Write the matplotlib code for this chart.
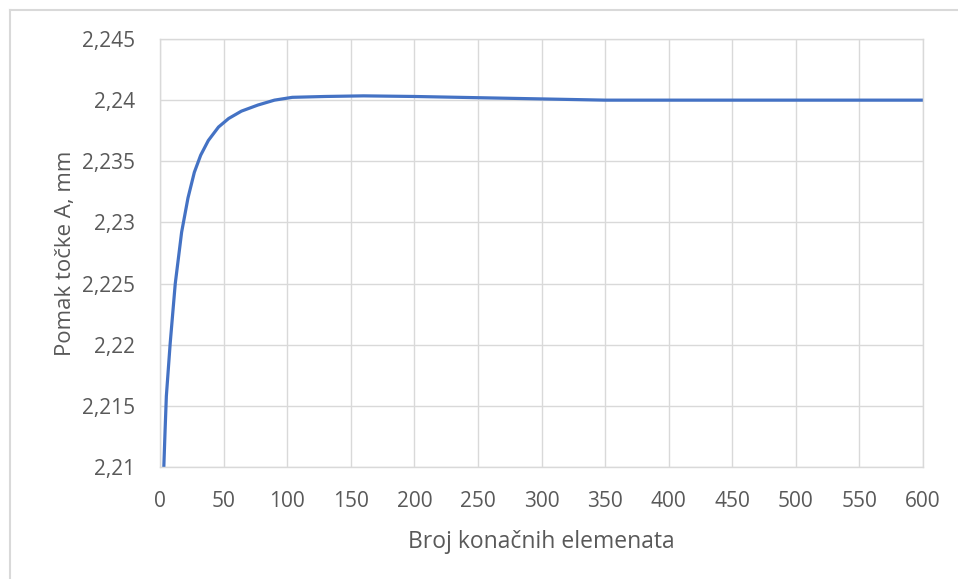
import matplotlib.pyplot as plt
from matplotlib.lines import Line2D
from matplotlib.ticker import FuncFormatter

# Broj konačnih elemenata vs. pomak točke A
elements = [3, 4, 5, 8, 12, 17, 22, 27, 32, 38, 46, 54, 64, 77, 90, 104,
            130, 160, 200, 250, 300, 350, 400, 500, 600]
displacement = [2.2100, 2.2130, 2.2158, 2.2201, 2.2250, 2.2292, 2.2320, 2.2341, 2.2355, 2.2367,
                2.2378, 2.2385, 2.2391, 2.2396, 2.2400, 2.24023,
                2.2403, 2.24035, 2.2403, 2.2402, 2.2401, 2.2400, 2.2400, 2.2400, 2.2400]

x_ticks = list(range(0, 601, 50))
y_ticks = [2.21, 2.215, 2.22, 2.225, 2.23, 2.235, 2.24, 2.245]

plt.rcParams['font.family'] = ['Open Sans', 'DejaVu Sans']
text_color = '#595959'
grid_color = '#D9D9D9'

fig = plt.figure(figsize=(9.58, 5.79), dpi=100)
ax = fig.add_axes([160 / 958, 1 - 467 / 579, (923 - 160) / 958, (467 - 39) / 579])

ax.plot(elements, displacement, color='#4472C4', linewidth=2.3,
        solid_capstyle='butt', solid_joinstyle='round')

ax.set_xlim(0, 600)
ax.set_ylim(2.21, 2.245)
ax.set_xticks(x_ticks)
ax.set_yticks(y_ticks)
ax.yaxis.set_major_formatter(FuncFormatter(lambda v, p: f'{v:g}'.replace('.', ',')))
ax.grid(True, color=grid_color, linewidth=1)
ax.set_axisbelow(True)
for s in ax.spines.values():
    s.set_color(grid_color)
    s.set_linewidth(1)
ax.tick_params(length=0, labelsize=15, labelcolor=text_color)
ax.tick_params(axis='x', pad=17)
ax.tick_params(axis='y', pad=18)

ax.set_xlabel('Broj konačnih elemenata', fontsize=16.5, color=text_color, labelpad=13)
ax.set_ylabel('Pomak točke A, mm', fontsize=16, color=text_color, labelpad=4)

# outer chart border (Excel chart area)
fig.add_artist(Line2D([9.5 / 958, 1], [1 - 9.5 / 579, 1 - 9.5 / 579], color=grid_color, linewidth=1.5))
fig.add_artist(Line2D([9.5 / 958, 9.5 / 958], [0, 1 - 9.5 / 579], color=grid_color, linewidth=1.5))

fig.savefig('out.png', dpi=100)
